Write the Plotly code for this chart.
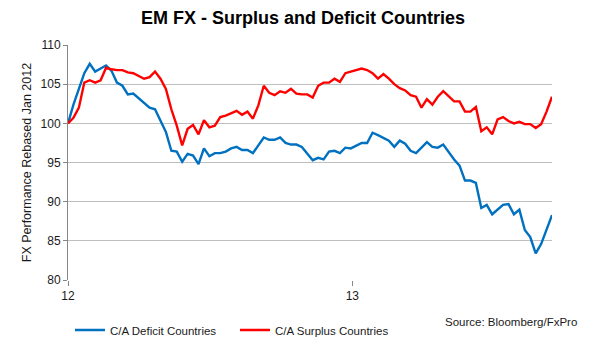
import pandas as pd
import plotly.graph_objects as go

# ---- data (weekly, rebased Jan 2012 = 100) ----
start_date = "2012-01-01"
n_weeks = 90
dates = pd.date_range(start_date, periods=n_weeks, freq="7D")

deficit = [
    100.0, 102.4, 104.4, 106.4, 107.6, 106.6, 107.0, 107.4, 106.7, 105.2,
    104.8, 103.7, 103.8, 103.2, 102.6, 102.0, 101.8, 100.3, 98.9, 96.5,
    96.4, 95.1, 96.1, 95.9, 94.8, 96.8, 95.8, 96.2, 96.2, 96.4,
    96.8, 97.0, 96.6, 96.6, 96.2, 97.2, 98.2, 97.9, 97.9, 98.2,
    97.5, 97.3, 97.3, 97.0, 96.1, 95.3, 95.6, 95.4, 96.4, 96.5,
    96.2, 96.9, 96.8, 97.1, 97.5, 97.5, 98.8, 98.5, 98.1, 97.8,
    97.0, 97.8, 97.4, 96.5, 96.2, 96.9, 97.6, 97.0, 96.9, 97.3,
    96.3, 95.4, 94.6, 92.7, 92.7, 92.4, 89.2, 89.6, 88.4, 89.0,
    89.6, 89.7, 88.4, 89.0, 86.4, 85.5, 83.4, 84.6, 86.4, 88.3,
]

surplus = [
    100.0, 100.7, 102.0, 105.2, 105.5, 105.2, 105.5, 107.1, 106.9, 106.8,
    106.8, 106.5, 106.4, 106.0, 105.7, 105.9, 106.6, 105.7, 104.4, 101.8,
    99.7, 97.2, 99.3, 99.8, 98.6, 100.4, 99.5, 99.7, 100.8, 101.0,
    101.3, 101.6, 101.1, 101.5, 100.6, 102.3, 104.8, 103.9, 103.6, 104.1,
    103.9, 104.4, 103.8, 103.7, 103.7, 103.3, 104.8, 105.2, 105.2, 105.7,
    105.3, 106.4, 106.6, 106.8, 107.0, 106.8, 106.4, 105.7, 106.3, 105.7,
    105.0, 104.5, 104.2, 103.6, 103.4, 102.0, 103.1, 102.4, 103.4, 104.1,
    103.5, 102.8, 102.8, 101.5, 101.5, 102.1, 99.0, 99.5, 98.6, 100.5,
    100.8, 100.3, 100.0, 100.2, 99.9, 99.9, 99.4, 99.9, 101.5, 103.4,
]

series_names = ["C/A Deficit Countries", "C/A Surplus Countries"]
x_tick_dates = ["2012-01-01", "2013-01-01"]
x_tick_labels = ["12", "13"]
title_text = "EM FX - Surplus and Deficit Countries"
y_title = "FX Performance Rebased Jan 2012"
source_text = "Source: Bloomberg/FxPro"

FONT = "Liberation Sans, Arial, sans-serif"
TXT = "#1a1a1a"

fig = go.Figure()
fig.add_trace(go.Scatter(x=dates, y=deficit, mode="lines", name=series_names[0],
                         line=dict(color="#0070C0", width=2.4)))
fig.add_trace(go.Scatter(x=dates, y=surplus, mode="lines", name=series_names[1],
                         line=dict(color="#FF0000", width=2.4)))

fig.update_layout(
    width=606, height=348,
    margin=dict(l=68, r=54, t=45, b=60),
    paper_bgcolor="white", plot_bgcolor="white",
    font=dict(family=FONT, color=TXT, size=12),
    title=dict(text="<b>" + title_text + "</b>", x=0.5, xref="container", xanchor="center",
               y=1 - 18 / 348, yref="container", yanchor="middle",
               font=dict(family=FONT, size=18, color="black")),
    showlegend=True,
    legend=dict(orientation="h", xref="container", yref="container",
                x=70 / 606, xanchor="left", y=1 - 330 / 348, yanchor="middle",
                font=dict(family=FONT, size=11.5, color=TXT),
                entrywidth=120, entrywidthmode="pixels",
                bgcolor="rgba(0,0,0,0)", borderwidth=0),
    annotations=[dict(text=source_text, xref="paper", yref="paper",
                      x=(443 - 68) / 484, y=(288 - 331) / 243, xanchor="left", yanchor="middle",
                      showarrow=False, font=dict(family=FONT, size=11.5, color=TXT))],
)

fig.update_yaxes(range=[80, 110], tick0=80, dtick=5,
                 showgrid=True, gridcolor="#BFBFBF", gridwidth=1,
                 showline=True, linecolor="#868686", linewidth=1,
                 ticks="outside", ticklen=4, tickcolor="#868686",
                 zeroline=False,
                 tickfont=dict(family=FONT, size=12, color=TXT),
                 title=dict(text=y_title, font=dict(family=FONT, size=12.5, color=TXT), standoff=6))

fig.update_xaxes(type="date", range=[dates[0], dates[-1]],
                 tickmode="array", tickvals=x_tick_dates, ticktext=x_tick_labels,
                 ticks="outside", ticklen=5, tickcolor="#868686",
                 showgrid=False, showline=False, zeroline=False,
                 tickfont=dict(family=FONT, size=12, color=TXT))

fig.write_html("out.html")
